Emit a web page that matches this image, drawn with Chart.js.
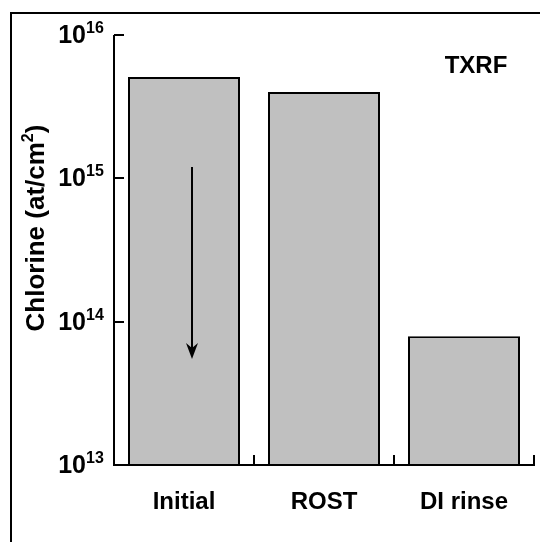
<!DOCTYPE html>
<html>
<head>
<meta charset="utf-8">
<script src="https://cdn.jsdelivr.net/npm/chart.js@4"></script>
<style>
  html, body { margin: 0; padding: 0; background: #fff; }
  #wrap { width: 540px; height: 542px; }
</style>
</head>
<body>
<div id="wrap"><canvas id="chlorineChart" width="540" height="542"></canvas></div>
<script>
// ===================================
// data
// ===================================
const categories = ['Initial', 'ROST', 'DI rinse'];
const chlorineValues = [5.1e15, 4.0e15, 7.9e13];
const yTickValues = [1e13, 1e14, 1e15, 1e16];
const yTickExponents = ['13', '14', '15', '16'];
const yTitle = 'Chlorine (at/cm';
const yTitleSup = '2';
const yTitleEnd = ')';
const cornerLabel = 'TXRF';
// arrow inside the first bar (category position, from value, to value)
const arrowX = [0.057];
const arrowFrom = [1.2e15];
const arrowTo = [5.5e13];

const FONT = '"Liberation Sans", Arial, Helvetica, sans-serif';

// ===================================
// drawing helpers
// ===================================
const decorPlugin = {
  id: 'decor',
  afterDraw(chart) {
    const ctx = chart.ctx;
    const x = chart.scales.x;
    const y = chart.scales.y;
    const area = chart.chartArea;
    ctx.save();
    ctx.strokeStyle = '#000';
    ctx.fillStyle = '#000';

    // frame (top + left only, rest is cropped)
    ctx.lineWidth = 2;
    ctx.beginPath();
    ctx.moveTo(11, 542);
    ctx.lineTo(11, 13);
    ctx.lineTo(540, 13);
    ctx.stroke();

    // axes
    ctx.beginPath();
    ctx.moveTo(area.left, y.getPixelForValue(1e16));
    ctx.lineTo(area.left, area.bottom);
    ctx.lineTo(area.right + 1, area.bottom);
    ctx.stroke();

    // y ticks pointing inward
    yTickValues.forEach((v, i) => {
      const py = Math.round(y.getPixelForValue(v));
      if (i > 0) {
        ctx.beginPath();
        ctx.moveTo(area.left, py);
        ctx.lineTo(area.left + 10, py);
        ctx.stroke();
      }
      // label 10^n
      ctx.textBaseline = 'alphabetic';
      ctx.font = 'bold 25px ' + FONT;
      ctx.textAlign = 'right';
      ctx.fillText('10', 86, py + 8);
      ctx.font = 'bold 16px ' + FONT;
      ctx.textAlign = 'left';
      ctx.fillText(yTickExponents[i], 86, py - 2);
    });

    // x ticks at category boundaries pointing up
    categories.forEach((c, i) => {
      const px = Math.round(x.getPixelForValue(i + 0.5));
      ctx.beginPath();
      ctx.moveTo(px, area.bottom);
      ctx.lineTo(px, area.bottom - 10);
      ctx.stroke();
      ctx.font = 'bold 24px ' + FONT;
      ctx.textAlign = 'center';
      ctx.textBaseline = 'alphabetic';
      ctx.fillText(c, x.getPixelForValue(i), 509);
    });

    // y title (rotated)
    ctx.save();
    ctx.translate(44, 228);
    ctx.rotate(-Math.PI / 2);
    ctx.font = 'bold 26px ' + FONT;
    const w1 = ctx.measureText(yTitle).width;
    const w3 = ctx.measureText(yTitleEnd).width;
    ctx.font = 'bold 16px ' + FONT;
    const w2 = ctx.measureText(yTitleSup).width;
    let sx = -(w1 + w2 + w3) / 2;
    ctx.textAlign = 'left';
    ctx.font = 'bold 26px ' + FONT;
    ctx.fillText(yTitle, sx, 0);
    ctx.font = 'bold 16px ' + FONT;
    ctx.fillText(yTitleSup, sx + w1, -11);
    ctx.font = 'bold 26px ' + FONT;
    ctx.fillText(yTitleEnd, sx + w1 + w2, 0);
    ctx.restore();

    // corner label
    ctx.font = 'bold 24px ' + FONT;
    ctx.textAlign = 'center';
    ctx.fillText(cornerLabel, 476, 73);

    // arrow
    arrowX.forEach((ax, i) => {
      const px = Math.round(x.getPixelForValue(ax));
      const y0 = y.getPixelForValue(arrowFrom[i]);
      const y1 = y.getPixelForValue(arrowTo[i]);
      ctx.lineWidth = 2;
      ctx.beginPath();
      ctx.moveTo(px, y0);
      ctx.lineTo(px, y1 - 8);
      ctx.stroke();
      ctx.beginPath();
      ctx.moveTo(px, y1);
      ctx.lineTo(px - 6, y1 - 16);
      ctx.lineTo(px, y1 - 11);
      ctx.lineTo(px + 6, y1 - 16);
      ctx.closePath();
      ctx.fill();
    });
    ctx.restore();
  }
};

// ===================================
// chart
// ===================================
new Chart(document.getElementById('chlorineChart'), {
  type: 'bar',
  data: {
    labels: categories,
    datasets: [{
      data: chlorineValues,
      backgroundColor: '#c0c0c0',
      borderColor: '#000',
      borderWidth: 2,
      borderSkipped: 'start',
      barPercentage: 0.8,
      categoryPercentage: 1.0
    }]
  },
  options: {
    responsive: false,
    animation: false,
    devicePixelRatio: 1,
    layout: { padding: { left: 114, top: 35, right: 6, bottom: 77 } },
    plugins: {
      legend: { display: false },
      tooltip: { enabled: false }
    },
    scales: {
      x: { display: false },
      y: {
        display: false,
        type: 'logarithmic',
        min: 1e13,
        max: 1e16
      }
    }
  },
  plugins: [decorPlugin]
});
</script>
</body>
</html>
